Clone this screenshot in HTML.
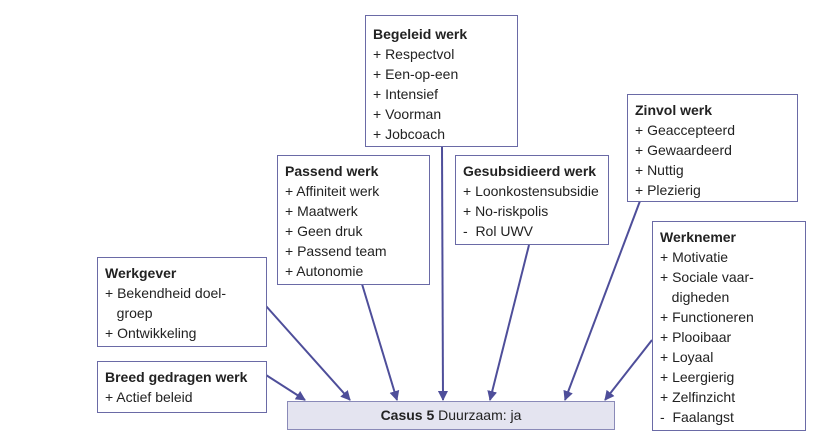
<!DOCTYPE html>
<html><head><meta charset="utf-8"><style>
body{margin:0;width:814px;height:438px;background:#fff;position:relative;font-family:"Liberation Sans",sans-serif;color:#222;overflow:hidden}
.b{position:absolute;border:1.5px solid #6a6aa6;background:#fff;box-sizing:border-box;padding:5px 0 0 7px;font-size:14px;line-height:20px;white-space:nowrap}
.b b{font-weight:bold}
.c{position:absolute;left:287px;top:401px;width:328px;height:29px;background:#e4e4f0;border:1.5px solid #8a8ab8;box-sizing:border-box;text-align:center;font-size:14px;line-height:27px}
svg{position:absolute;left:0;top:0}
</style></head><body>
<svg width="814" height="438"><defs><marker id="a" markerWidth="10" markerHeight="10" refX="9" refY="5" orient="auto" markerUnits="userSpaceOnUse"><path d="M0,0 L10,5 L0,10 z" fill="#4e4e9a"/></marker></defs>
<g stroke="#4e4e9a" stroke-width="2" marker-end="url(#a)">
<line x1="266" y1="375" x2="305" y2="400"/>
<line x1="266" y1="306" x2="350" y2="400"/>
<line x1="362" y1="284" x2="397" y2="400"/>
<line x1="442" y1="146" x2="443" y2="400"/>
<line x1="529" y1="245" x2="490" y2="400"/>
<line x1="640" y1="201" x2="565" y2="400"/>
<line x1="652" y1="340" x2="605" y2="400"/>
</g></svg>
<div class="b" style="left:365px;top:15px;width:153px;height:132px;padding-top:8px"><b>Begeleid werk</b><br>+ Respectvol<br>+ Een-op-een<br>+ Intensief<br>+ Voorman<br>+ Jobcoach</div>
<div class="b" style="left:277px;top:155px;width:153px;height:130px"><b>Passend werk</b><br>+ Affiniteit werk<br>+ Maatwerk<br>+ Geen druk<br>+ Passend team<br>+ Autonomie</div>
<div class="b" style="left:455px;top:155px;width:154px;height:90px"><b>Gesubsidieerd werk</b><br>+ Loonkostensubsidie<br>+ No-riskpolis<br>-&nbsp; Rol UWV</div>
<div class="b" style="left:627px;top:94px;width:171px;height:108px"><b>Zinvol werk</b><br>+ Geaccepteerd<br>+ Gewaardeerd<br>+ Nuttig<br>+ Plezierig</div>
<div class="b" style="left:652px;top:221px;width:154px;height:210px"><b>Werknemer</b><br>+ Motivatie<br>+ Sociale vaar-<br>&nbsp;&nbsp;&nbsp;digheden<br>+ Functioneren<br>+ Plooibaar<br>+ Loyaal<br>+ Leergierig<br>+ Zelfinzicht<br>-&nbsp; Faalangst</div>
<div class="b" style="left:97px;top:257px;width:170px;height:90px;padding-top:5px"><b>Werkgever</b><br>+ Bekendheid doel-<br>&nbsp;&nbsp;&nbsp;groep<br>+ Ontwikkeling</div>
<div class="b" style="left:97px;top:361px;width:170px;height:52px;padding-top:5px"><b>Breed gedragen werk</b><br>+ Actief beleid</div>
<div class="c"><b>Casus 5</b> Duurzaam: ja</div>
</body></html>
